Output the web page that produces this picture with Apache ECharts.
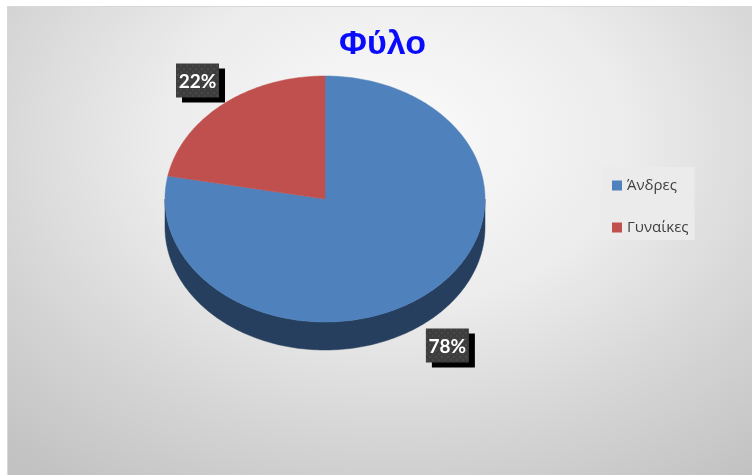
<!DOCTYPE html>
<html>
<head>
<meta charset="utf-8">
<script src="https://cdn.jsdelivr.net/npm/echarts@6/dist/echarts.min.js"></script>
<style>
  html, body { margin: 0; padding: 0; background: #ffffff; width: 752px; height: 475px; overflow: hidden; }
  #frame {
    position: absolute; left: 7px; top: 6px; width: 744px; height: 468px;
    border-top: 1px solid #d8d8d8; border-left: 1px solid #d8d8d8;
    background: radial-gradient(ellipse 78% 90% at 52% 28%, #fbfbfb 0%, #ececec 40%, #d6d6d6 70%, #c2c2c2 100%);
  }
  #chart { position: absolute; left: 0; top: 0; width: 744px; height: 468px; }
</style>
</head>
<body>
<div id="frame"><div id="chart"></div></div>
<script>
// Gender split
const categories = ['Άνδρες', 'Γυναίκες'];
const shares = [78, 22];
const topColors = ['#4f81bd', '#c0504d'];
const sideColors = ['#263f5e', '#7a302e'];

// 3D pie geometry (pixels inside the chart)
const CX = 317, CY = 192, RX = 160, RY = 123, DEPTH = 28;
const total = shares.reduce((a, b) => a + b, 0);

function sliceAngles(i) {
  let before = 0;
  for (let k = 0; k < i; k++) before += shares[k];
  const start = before / total * Math.PI * 2;
  const end = start + shares[i] / total * Math.PI * 2;
  return [start, end];
}
// angle measured clockwise from 12 o'clock
function pt(theta, dy) {
  return [CX + RX * Math.sin(theta), CY - RY * Math.cos(theta) + (dy || 0)];
}
function arc(a, b, dy) {
  const pts = [];
  const n = Math.max(2, Math.ceil(Math.abs(b - a) / (Math.PI / 180)));
  for (let s = 0; s <= n; s++) pts.push(pt(a + (b - a) * s / n, dy));
  return pts;
}

// dotted fill for the value boxes
const dots = document.createElement('canvas');
dots.width = 6; dots.height = 6;
(function () {
  const g = dots.getContext('2d');
  g.fillStyle = '#3d3d3d'; g.fillRect(0, 0, 6, 6);
  g.fillStyle = '#4a4a4a'; g.fillRect(1, 1, 2, 2);
  g.fillStyle = '#474747'; g.fillRect(4, 4, 2, 2);
})();

function renderSide(params, api) {
  const i = params.dataIndex;
  const [s, e] = sliceAngles(i);
  const a = Math.max(s, Math.PI / 2), b = Math.min(e, Math.PI * 1.5);
  if (b <= a) return { type: 'group', children: [] };
  const top = arc(a, b, 0);
  const bottom = arc(b, a, DEPTH);
  return {
    type: 'polygon',
    shape: { points: top.concat(bottom) },
    style: { fill: sideColors[i], stroke: sideColors[i], lineWidth: 0.5 }
  };
}

function makeTopRender(i) {
  return function (params, api) {
    const [s, e] = sliceAngles(i);
    const pts = [[CX, CY]].concat(arc(s, e, 0));
    const mid = (s + e) / 2;
    const front = Math.cos(mid) < 0;
    const lx = CX + RX * (front ? 1.2 : 1.25) * Math.sin(mid);
    let ly = CY - RY * 1.25 * Math.cos(mid);
    if (front) ly += DEPTH;
    const bw = 43, bh = 34;
    return {
      type: 'group',
      children: [
        { type: 'polygon', shape: { points: pts },
          style: { fill: topColors[i], stroke: topColors[i], lineWidth: 0.5 } },
        { type: 'rect', shape: { x: lx - bw / 2 + 6, y: ly - bh / 2 + 5, width: bw, height: bh },
          style: { fill: '#000000' }, z2: 10 },
        { type: 'rect', shape: { x: lx - bw / 2, y: ly - bh / 2, width: bw, height: bh },
          style: { fill: { image: dots, repeat: 'repeat' } }, z2: 11 },
        { type: 'text', x: lx, y: ly + 1, z2: 12,
          style: { text: shares[i] + '%', fill: '#ffffff', align: 'center', verticalAlign: 'middle',
                   font: 'bold 19px Lato, "Open Sans", sans-serif' } }
      ]
    };
  };
}

const series = [{
  type: 'custom',
  name: 'side',
  coordinateSystem: 'none',
  silent: true,
  data: shares,
  renderItem: renderSide,
  z: 1
}];
categories.forEach((name, i) => {
  series.push({
    type: 'custom',
    name: name,
    coordinateSystem: 'none',
    data: [shares[i]],
    itemStyle: { color: topColors[i] },
    renderItem: makeTopRender(i),
    z: 2
  });
});

const chart = echarts.init(document.getElementById('chart'), null, { renderer: 'canvas' });
chart.setOption({
  animation: false,
  backgroundColor: 'transparent',
  title: {
    text: 'Φύλο',
    left: 331, top: 21, padding: 0,
    textStyle: { fontFamily: '"Liberation Sans", Arial, sans-serif', fontWeight: 'bold', fontSize: 34, color: '#0a0aff' }
  },
  legend: {
    data: categories,
    orient: 'vertical',
    left: 593, top: 160,
    padding: [11, 6, 5, 11],
    itemWidth: 10, itemHeight: 10, itemGap: 27,
    icon: 'rect',
    backgroundColor: '#ebebeb',
    textStyle: { fontFamily: '"Open Sans", Lato, sans-serif', fontSize: 15, color: '#404040' }
  },
  series: series
});
</script>
</body>
</html>
